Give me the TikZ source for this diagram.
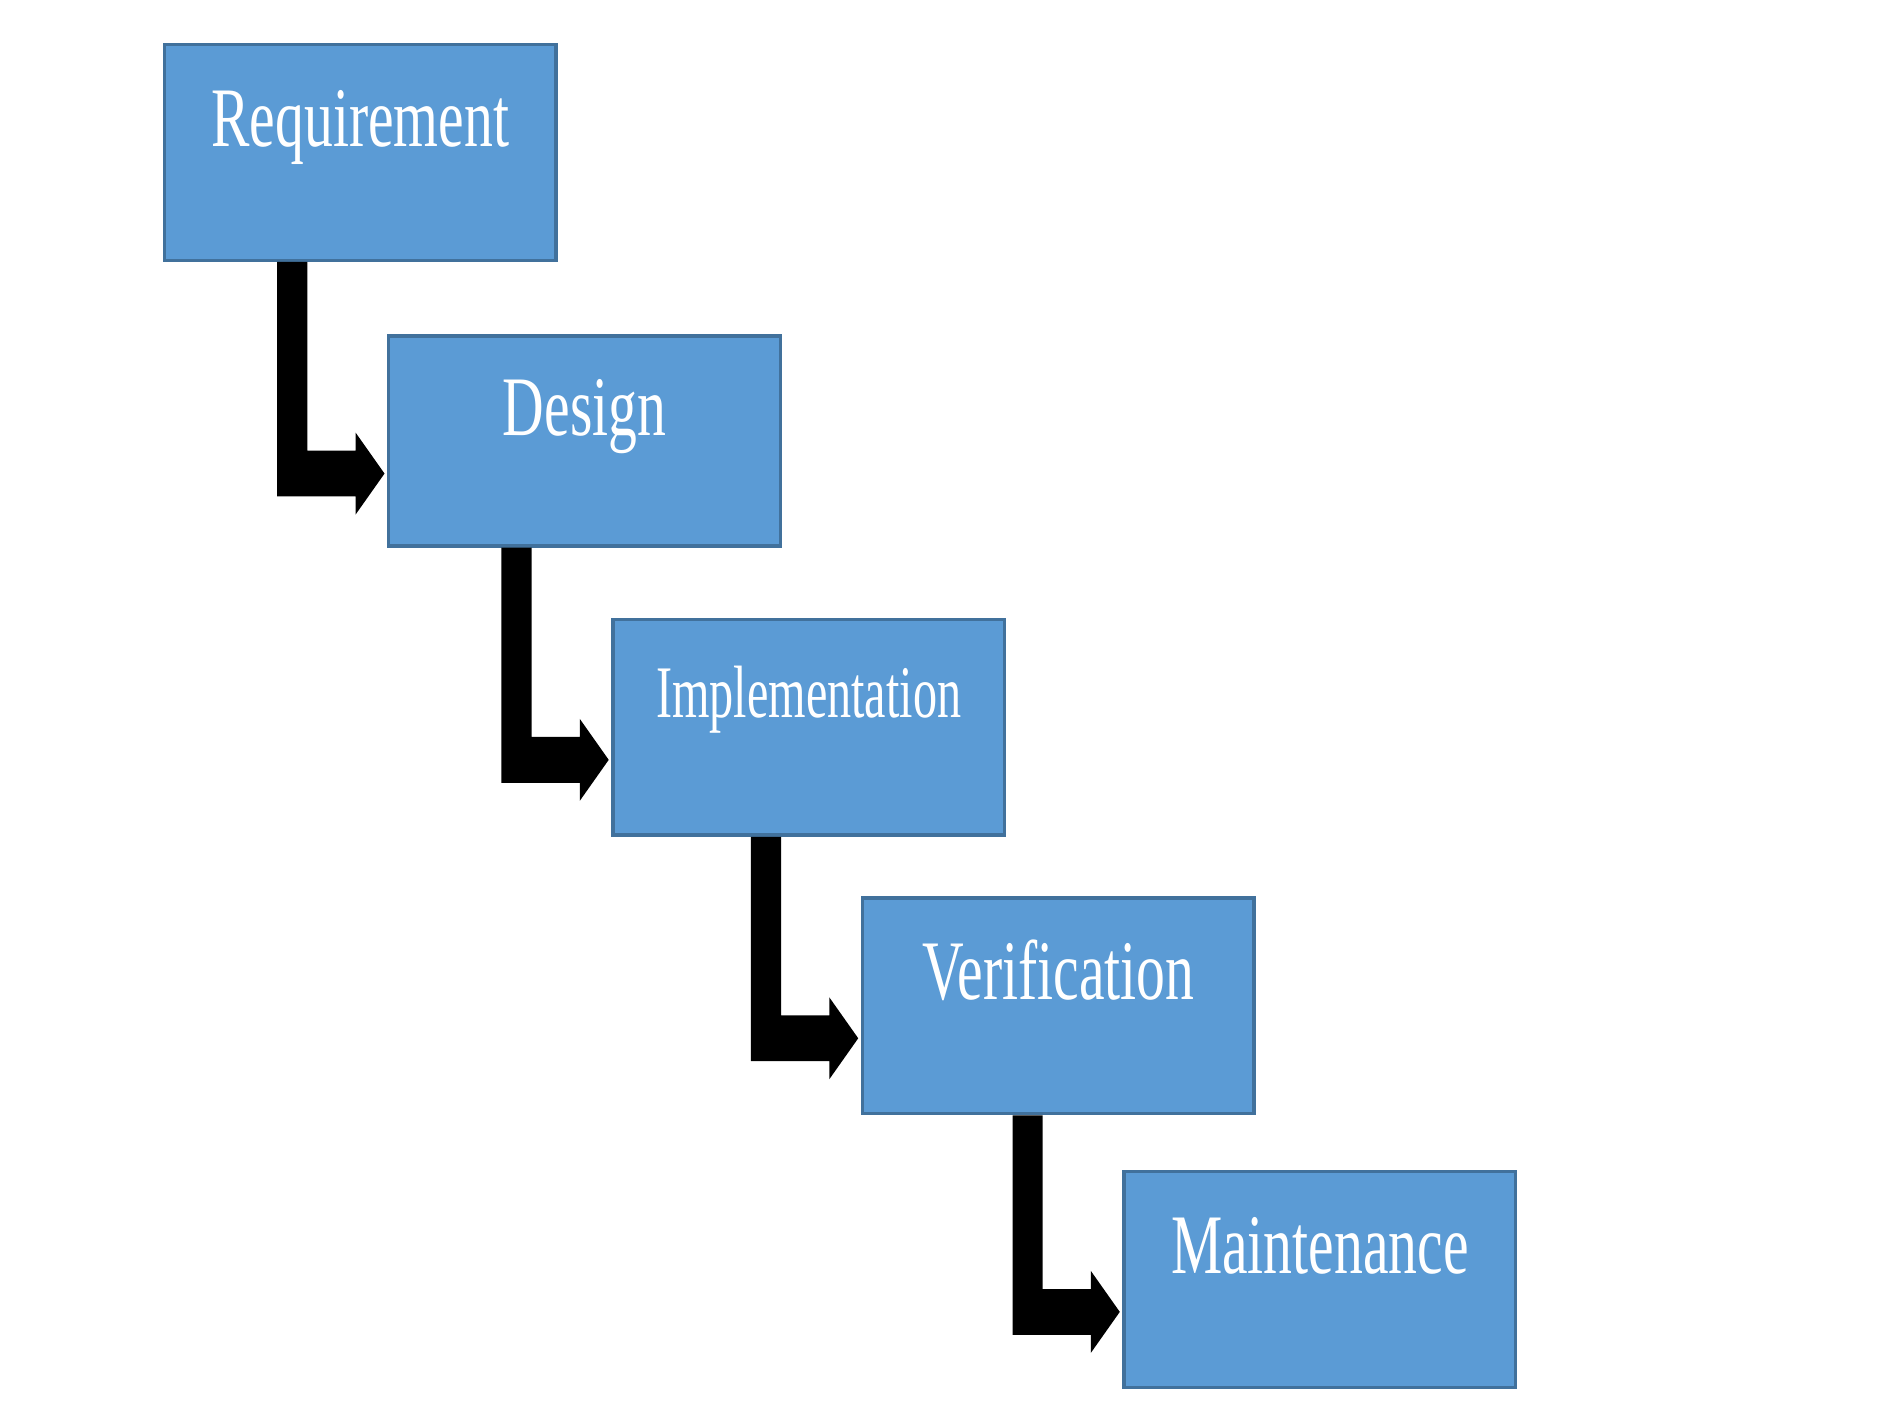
\documentclass[tikz,border=0pt]{standalone}
\usepackage{fontspec}
\setmainfont{Liberation Serif}
\usetikzlibrary{calc}

\definecolor{phasenblau}{HTML}{5B9BD5}
\definecolor{randblau}{HTML}{41719C}

% schmale, hohe Schrift wie im Original
\newcommand{\stauchen}[2][0.68]{\scalebox{#1}[1]{#2}}

% gestufter Pfeil von der Unterkante von #1 zur linken Kante von #2
\newcommand{\treppenpfeil}[2]{%
  \fill[black] let \p1=(#1.south), \p2=(#2.west) in
    (\x2-0.91cm,\y1) -- (\x2-0.66cm,\y1) -- (\x2-0.66cm,\y2-0.08cm)
    -- (\x2-0.26cm,\y2-0.08cm) -- (\x2-0.26cm,\y2+0.07cm)
    -- (\x2-0.02cm,\y2-0.27cm)
    -- (\x2-0.26cm,\y2-0.61cm) -- (\x2-0.26cm,\y2-0.46cm)
    -- (\x2-0.91cm,\y2-0.46cm) -- cycle;
}

\begin{document}
\begin{tikzpicture}
  \tikzstyle{phase}=[draw=randblau,line width=0.8pt,fill=phasenblau,
    anchor=north west,inner sep=0pt,minimum width=3.25cm,minimum height=1.79cm,
    text=white,text height=0.45cm,text depth=0.55cm,font=\fontsize{20}{24}\selectfont]

  \useasboundingbox (0,0) rectangle (15.68,11.755);

  % Phasen
  \node[phase] (req) at (1.35,11.40) {\stauchen{Requirement}};
  \node[phase,minimum height=1.74cm] (des) at (3.21,8.98) {\stauchen{Design}};
  \node[phase,font=\fontsize{17.5}{21}\selectfont,text depth=0.62cm] (impl) at (5.07,6.63) {\stauchen[0.65]{Implementation}};
  \node[phase] (ver) at (7.14,4.32) {\stauchen{Verification}};
  \node[phase] (main) at (9.31,2.05) {\stauchen{Maintenance}};

  % Pfeile zwischen den Phasen
  \foreach \von/\nach in {req/des,des/impl,impl/ver,ver/main}
    {\treppenpfeil{\von}{\nach}}

\end{tikzpicture}
\end{document}
